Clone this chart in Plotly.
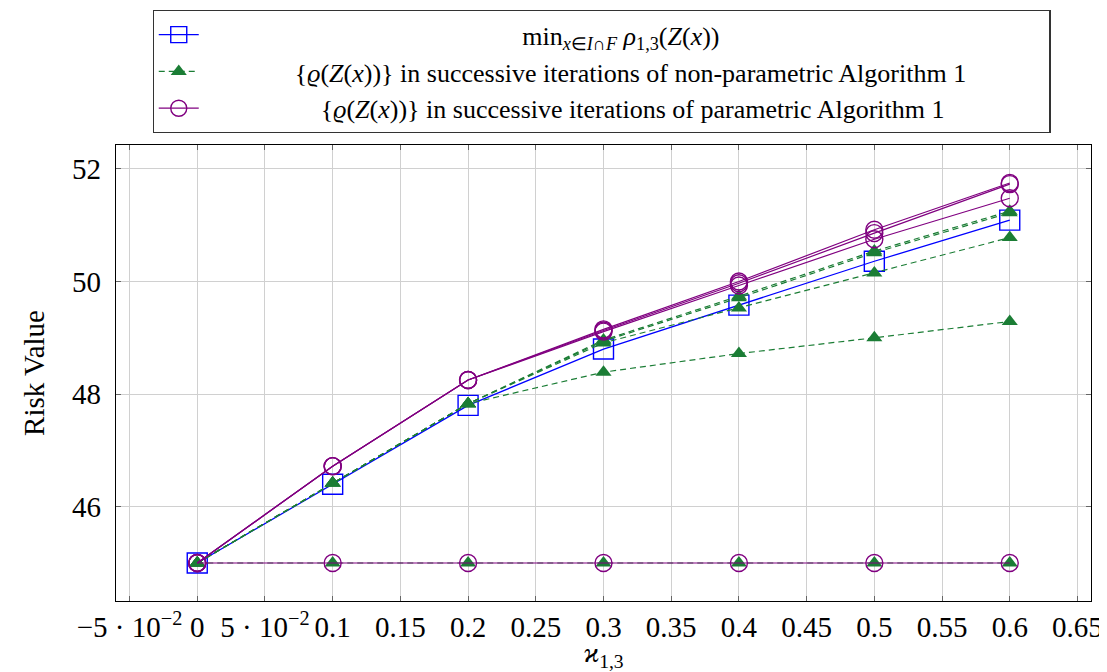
import plotly.graph_objects as go

x_vals = [0.0, 0.1, 0.2, 0.3, 0.4, 0.5, 0.6]

min_rho = [45.0, 46.40, 47.80, 48.80, 49.58, 50.36, 51.09]

nonparam_iters = [
    [45.0, 45.0, 45.0, 45.0, 45.0, 45.0, 45.0],
    [45.0, 46.42, 47.83, 48.39, 48.72, 49.00, 49.29],
    [45.0, 46.42, 47.83, 48.91, 49.53, 50.15, 50.78],
    [45.0, 46.42, 47.83, 48.94, 49.71, 50.51, 51.22],
    [45.0, 46.42, 47.83, 48.96, 49.74, 50.54, 51.25],
]

param_iters = [
    [45.0, 45.0, 45.0, 45.0, 45.0, 45.0, 45.0],
    [45.0, 46.72, 48.25, 49.15, 50.00, 50.92, 51.75],
    [45.0, 46.72, 48.25, 49.13, 49.97, 50.86, 51.73],
    [45.0, 46.72, 48.25, 49.11, 49.93, 50.75, 51.48],
]

x_tickvals = [-0.05, 0.0, 0.05, 0.1, 0.15, 0.2, 0.25, 0.3, 0.35, 0.4, 0.45, 0.5, 0.55, 0.6, 0.65]
x_ticktext = ["−5 · 10<sup>−2</sup>", "0", "5 · 10<sup>−2</sup>", "0.1", "0.15", "0.2", "0.25",
              "0.3", "0.35", "0.4", "0.45", "0.5", "0.55", "0.6", "0.65"]
y_tickvals = [46, 48, 50, 52]

NB = "\u00a0"
name_min = NB * 49 + "min<sub><i>x</i>∈<i>I</i>∩<i>F</i></sub> <i>ρ</i><sub>1,3</sub>(<i>Z</i>(<i>x</i>))"
name_nonparam = NB * 14 + "{<i>ϱ</i>(<i>Z</i>(<i>x</i>))} in successive iterations of non-parametric Algorithm 1" + NB * 12
name_param = NB * 18 + "{<i>ϱ</i>(<i>Z</i>(<i>x</i>))} in successive iterations of parametric Algorithm 1"

BLUE = "#0000ff"
GREEN = "#1b7d35"
PURPLE = "#800080"

fig = go.Figure()

fig.add_trace(go.Scatter(
    x=x_vals, y=min_rho, mode="lines+markers", name=name_min,
    line=dict(color=BLUE, width=1.3),
    marker=dict(symbol="square-open", size=20, color=BLUE, line=dict(width=1.4, color=BLUE)),
    legendrank=1,
))

for i, ys in enumerate(nonparam_iters):
    fig.add_trace(go.Scatter(
        x=x_vals, y=ys, mode="lines+markers", name=name_nonparam,
        showlegend=(i == 0), legendrank=2,
        line=dict(color=GREEN, width=1.2, dash="6px,4px"),
        marker=dict(symbol="triangle-up", size=14, color=GREEN),
    ))

for i, ys in enumerate(param_iters):
    fig.add_trace(go.Scatter(
        x=x_vals, y=ys, mode="lines+markers", name=name_param,
        showlegend=(i == 0), legendrank=3,
        line=dict(color=PURPLE, width=1.2),
        marker=dict(symbol="circle-open", size=17, color=PURPLE, line=dict(width=1.4, color=PURPLE)),
    ))

FONT = "Liberation Serif"

# page body has an 8px default margin, so the figure is shrunk by 8px and margins shifted
fig.update_layout(
    width=1099, height=664,
    margin=dict(l=108, r=16, t=137, b=71, autoexpand=False),
    paper_bgcolor="white", plot_bgcolor="white",
    font=dict(family=FONT, size=29, color="black"),
    legend=dict(
        x=0.498, y=1.296, xanchor="center", yanchor="top",
        bordercolor="#333333", borderwidth=1.2, bgcolor="white",
        font=dict(family=FONT, size=26, color="black"),
        tracegroupgap=0, itemwidth=40,
    ),
    xaxis=dict(
        range=[-0.06, 0.66], tickvals=x_tickvals, ticktext=x_ticktext, tickangle=0,
        showgrid=True, gridcolor="#d0d0d0", gridwidth=1, automargin=False,
        zeroline=False, showline=True, linecolor="black", linewidth=1.2, mirror="allticks",
        ticks="inside", ticklen=5, tickcolor="#666666",
        title=dict(text="<i>ϰ</i><sub>1,3</sub>", font=dict(family=FONT, size=28), standoff=2),
    ),
    yaxis=dict(
        range=[44.325, 52.425], tickvals=y_tickvals, automargin=False,
        showgrid=True, gridcolor="#d0d0d0", gridwidth=1,
        zeroline=False, showline=True, linecolor="black", linewidth=1.2, mirror="allticks",
        ticks="inside", ticklen=5, tickcolor="#666666", ticklabelstandoff=8,
        title=dict(text="Risk Value", font=dict(family=FONT, size=29), standoff=18),
    ),
)

fig.write_html("out.html")
